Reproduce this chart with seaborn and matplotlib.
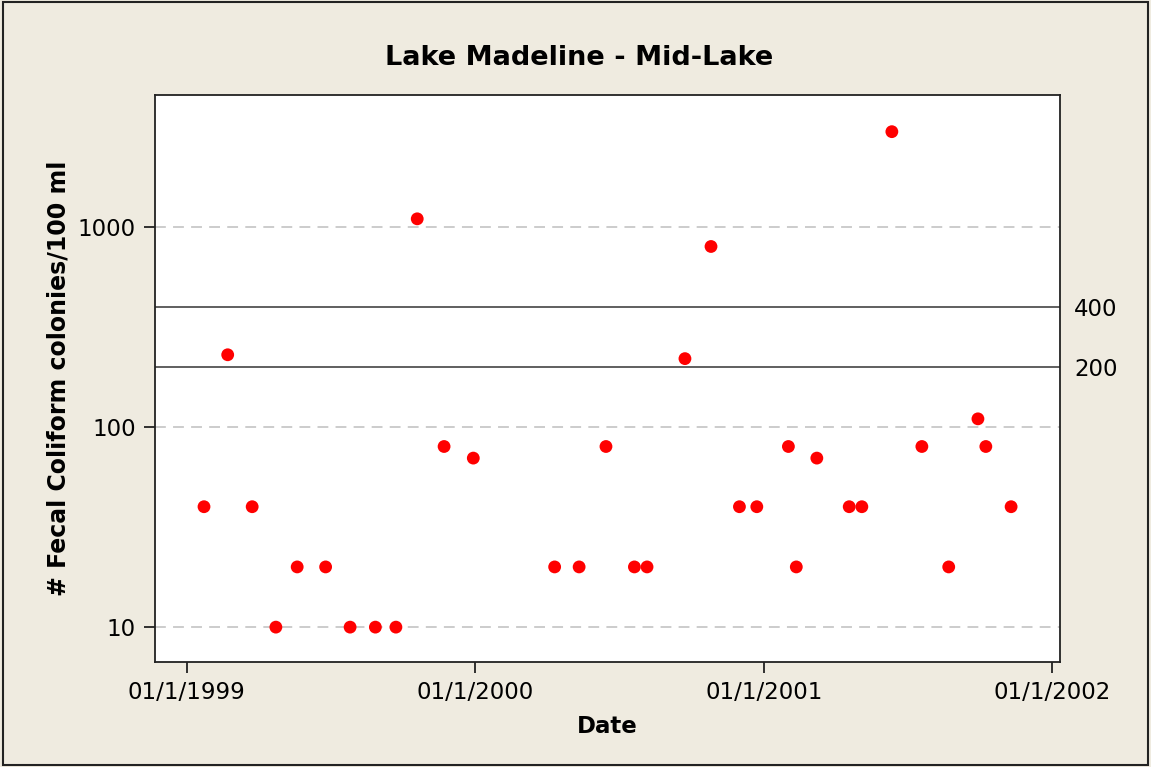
import pandas as pd
import numpy as np
import matplotlib
matplotlib.use("Agg")
import matplotlib.pyplot as plt
import matplotlib.dates as mdates
from matplotlib.ticker import FixedLocator, NullLocator, FixedFormatter
import seaborn as sns

# sampling dates and fecal coliform counts
dates = ["1999-01-23", "1999-02-22", "1999-03-25", "1999-04-24", "1999-05-21",
         "1999-06-26", "1999-07-27", "1999-08-28", "1999-09-23", "1999-10-20",
         "1999-11-23", "1999-12-30", "2000-04-11", "2000-05-12", "2000-06-15",
         "2000-07-21", "2000-08-06", "2000-09-23", "2000-10-26", "2000-12-01",
         "2000-12-23", "2001-02-01", "2001-02-11", "2001-03-09", "2001-04-19",
         "2001-05-05", "2001-06-12", "2001-07-20", "2001-08-23", "2001-09-29",
         "2001-10-09", "2001-11-10"]
counts = [40, 230, 40, 10, 20, 20, 10, 10, 10, 1100,
          80, 70, 20, 20, 80, 20, 20, 220, 800, 40,
          40, 80, 20, 70, 40, 40, 3000, 80, 20, 110,
          80, 40]
ref_levels = [200, 400]
y_ticks = [10, 100, 1000]
x_ticks = ["1999-01-01", "2000-01-01", "2001-01-01", "2002-01-01"]
x_tick_labels = ["01/1/1999", "01/1/2000", "01/1/2001", "01/1/2002"]

df = pd.DataFrame({"Date": pd.to_datetime(dates), "count": counts})

sns.set_style("white")
plt.rcParams['font.family'] = ['DejaVu Sans']
plt.rcParams['text.color'] = 'black'
plt.rcParams['axes.labelcolor'] = 'black'

bg = "#EFEBE0"
fig = plt.figure(figsize=(11.51, 7.67), dpi=100, facecolor=bg)
fig.patches.append(plt.Rectangle((0.003, 0.002), 0.994, 0.995, transform=fig.transFigure,
                                 fill=False, edgecolor="#222222", linewidth=1.5))
ax = fig.add_axes([0.1347, 0.137, 0.7863, 0.739])
ax.set_facecolor("white")

ax.set_yscale("log")
ax.set_ylim(6.7, 4570)
ax.set_xlim(pd.Timestamp("1998-11-22"), pd.Timestamp("2002-01-11"))

# grid and reference lines
for v in y_ticks:
    ax.axhline(v, color="#C8C8C8", linestyle=(0, (6, 4)), linewidth=1.3, zorder=1)
for v in ref_levels:
    ax.axhline(v, color="#444444", linewidth=1.2, zorder=1)

sns.scatterplot(data=df, x="Date", y="count", ax=ax, color="#FF0000",
                s=85, edgecolor="none", zorder=3, legend=False)

ax.yaxis.set_major_locator(FixedLocator(y_ticks))
ax.yaxis.set_major_formatter(FixedFormatter([str(v) for v in y_ticks]))
ax.yaxis.set_minor_locator(NullLocator())
ax.set_xticks(pd.to_datetime(x_ticks))
ax.set_xticklabels(x_tick_labels)
ax.tick_params(axis="both", which="major", direction="out", length=8, width=1.3,
               labelsize=16.5, color="#222222", labelcolor="black", left=True, bottom=True, pad=6)

for sp in ax.spines.values():
    sp.set_color("#222222")
    sp.set_linewidth(1.3)

# right-hand labels for the reference lines
ax2 = ax.twinx()
ax2.set_yscale("log")
ax2.set_ylim(ax.get_ylim())
ax2.yaxis.set_major_locator(FixedLocator(ref_levels))
ax2.yaxis.set_major_formatter(FixedFormatter([str(v) for v in ref_levels]))
ax2.yaxis.set_minor_locator(NullLocator())
ax2.tick_params(axis="y", length=0, labelsize=16.5, pad=10, labelcolor="black")
for sp in ax2.spines.values():
    sp.set_visible(False)

ax.set_xlabel("Date", fontsize=16.5, fontweight="bold", labelpad=8)
ax.set_ylabel("# Fecal Coliform colonies/100 ml", fontsize=17, fontweight="bold", labelpad=5)
fig.text(0.503, 0.925, "Lake Madeline - Mid-Lake", fontsize=19.5, fontweight="bold",
         ha="center", va="center")

fig.savefig("out.png", dpi=100, facecolor=bg)
